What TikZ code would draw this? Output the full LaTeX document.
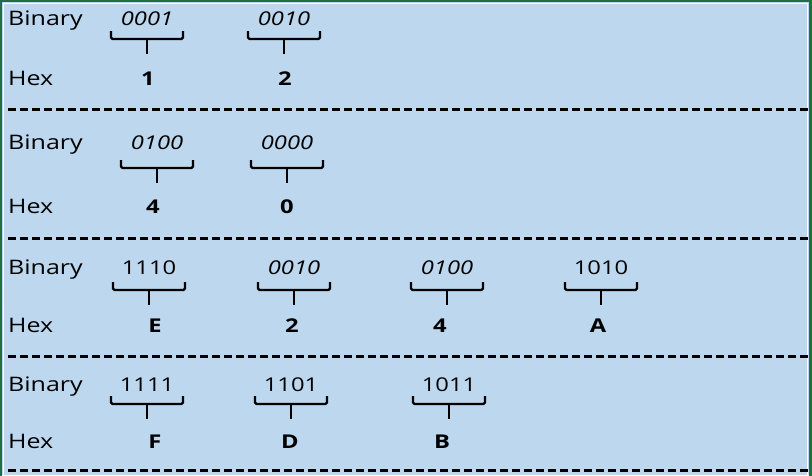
\documentclass[tikz,border=0pt]{standalone}
\usepackage{fontspec}
\setmainfont{Open Sans}[FakeStretch=1.25]
\definecolor{bgblue}{HTML}{BDD7EE}
\definecolor{framegreen}{HTML}{1F6F43}
\newcommand\hgrp[8]{%
  \node[bin] (b#1) at (#2,#3) {#4};
  \coordinate (bl#1) at (#2-36,#5);
  \coordinate (br#1) at (#2+36,#5);
  \coordinate (t#1) at (#2,#5+8);
  \coordinate (s#1) at (#2,#5+23);
  \draw[bracepath] (bl#1) -- ++(0,8) -- ++(72,0) -- (br#1);
  \draw[bracepath] (t#1) -- (s#1);
  \node[hexd] (h#1) at (#8,#6) {#7};
}
\begin{document}
\begin{tikzpicture}[x=1pt,y=-1pt,
  lab/.style={font=\fontsize{20}{24}\selectfont, anchor=base west, inner sep=0pt},
  bin/.style={font=\fontsize{19}{22}\selectfont, anchor=base, inner sep=0pt},
  hexd/.style={font=\fontsize{19}{22}\selectfont\bfseries, anchor=base, inner sep=0pt},
  bracepath/.style={line width=2.2pt, rounded corners=1.5pt},
  sepline/.style={line width=2.6pt, dash pattern=on 8pt off 4pt}]
\useasboundingbox (0,0) rectangle (812,475);
\fill[bgblue] (0,0) rectangle (812,475);
\draw[white, line width=0.8pt] (3.6,480) -- (3.6,3.6) -- (807.4,3.6) -- (807.4,480);
\draw[framegreen, line width=2.4pt] (1.2,480) -- (1.2,1.2) -- (810.5,1.2) -- (810.5,480);
% separators
\coordinate (d1a) at (8,109.5); \coordinate (d1b) at (808,109.5);
\coordinate (d2a) at (8,238.5); \coordinate (d2b) at (808,238.5);
\coordinate (d3a) at (8,356.5); \coordinate (d3b) at (808,356.5);
\coordinate (d4a) at (8,470.5); \coordinate (d4b) at (808,470.5);
\draw[sepline] (d1a) -- (d1b);
\draw[sepline] (d2a) -- (d2b);
\draw[sepline] (d3a) -- (d3b);
\draw[sepline] (d4a) -- (d4b);
% row labels
\node[lab] (bin1) at (8,25) {Binary};
\node[lab] (hex1) at (8,85) {Hex};
\node[lab] (bin2) at (8,149) {Binary};
\node[lab] (hex2) at (8,213) {Hex};
\node[lab] (bin3) at (8,274) {Binary};
\node[lab] (hex3) at (8,332) {Hex};
\node[lab] (bin4) at (8,391) {Binary};
\node[lab] (hex4) at (8,448) {Hex};
% groups
\hgrp{11}{147}{25}{\itshape 0001}{31}{85}{1}{148}
\hgrp{12}{284}{25}{\itshape 0010}{31}{85}{2}{285}
\hgrp{21}{157}{149}{\itshape 0100}{160}{213}{4}{153}
\hgrp{22}{287}{149}{\itshape 0000}{160}{213}{0}{287}
\hgrp{31}{149}{274}{1110}{282}{332}{E}{155}
\hgrp{32}{294}{274}{\itshape 0010}{282}{332}{2}{292}
\hgrp{33}{447}{274}{\itshape 0100}{282}{332}{4}{440}
\hgrp{34}{601}{274}{1010}{282}{332}{A}{598}
\hgrp{41}{147}{391}{1111}{396}{448}{F}{155}
\hgrp{42}{291}{391}{1101}{396}{448}{D}{290}
\hgrp{43}{449}{391}{1011}{396}{448}{B}{442}
\end{tikzpicture}
\end{document}
